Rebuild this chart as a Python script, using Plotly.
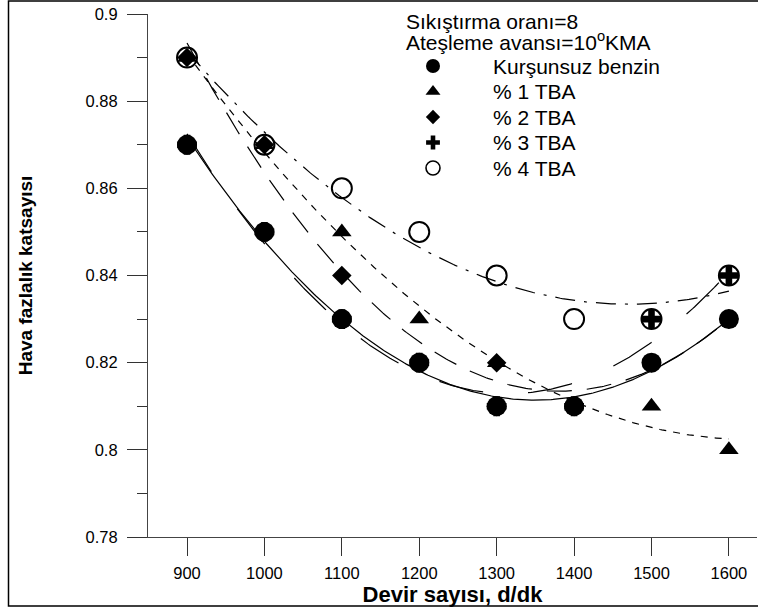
import numpy as np
import plotly.graph_objects as go

# Engine speed (d/dk) and air excess coefficient for each fuel blend
rpm = [900, 1000, 1100, 1200, 1300, 1400, 1500, 1600]
kursunsuz = [0.87, 0.85, 0.83, 0.82, 0.81, 0.81, 0.82, 0.83]
tba_1 = [0.89, 0.87, 0.85, 0.83, 0.82, 0.81, 0.81, 0.80]
tba_2 = [0.89, 0.87, 0.84, 0.82, 0.82, 0.81, 0.82, 0.83]
tba_3 = [0.87, 0.85, 0.83, 0.82, 0.81, 0.81, 0.83, 0.84]
tba_4 = [0.89, 0.87, 0.86, 0.85, 0.84, 0.83, 0.83, 0.84]

# first point index used by each second-order regression
fit_start = [0, 0, 0, 0, 1]

series_names = ["Kurşunsuz benzin", "% 1 TBA", "% 2 TBA", "% 3 TBA", "% 4 TBA"]
x_ticks = [900, 1000, 1100, 1200, 1300, 1400, 1500, 1600]
y_ticks = [0.78, 0.80, 0.82, 0.84, 0.86, 0.88, 0.90]
y_tick_text = ["0.78", "0.8", "0.82", "0.84", "0.86", "0.88", "0.9"]

FONT = "Liberation Sans, Arial, sans-serif"

# plot-area geometry in pixels (used for placing the legend block)
W, H = 758, 610
L, R, T, B = 148, 1, 14, 73
PW, PH = W - L - R, H - T - B


def px_x(px):
    return (px - L) / PW


def px_y(py):
    return (H - B - py) / PH


styles = [
    dict(symbol="circle", size=20, line=dict(width=0), dash="solid"),
    dict(symbol="triangle-up", size=17, line=dict(width=0), dash="7px,7px"),
    dict(symbol="diamond", size=15, line=dict(width=0), dash="25px,15px"),
    dict(symbol="cross", size=16.5, line=dict(width=0), dash="45px,45px"),
    dict(symbol="circle-open", size=20, line=dict(width=2, color="black"), dash="20px,9px,3px,9px"),
]
data = [kursunsuz, tba_1, tba_2, tba_3, tba_4]

fig = go.Figure()

# second-order regression curves
xs = np.linspace(rpm[0], rpm[-1], 300)
for vals, st, nm, k in zip(data, styles, series_names, fit_start):
    coef = np.polyfit(rpm[k:], vals[k:], 2)
    fig.add_trace(go.Scatter(
        x=xs, y=np.polyval(coef, xs), mode="lines", name=nm, showlegend=False,
        line=dict(color="black", width=1.2, dash=st["dash"]), hoverinfo="skip"))

# measured points
for vals, st, nm in zip(data, styles, series_names):
    fig.add_trace(go.Scatter(
        x=rpm, y=vals, mode="markers", name=nm, showlegend=False,
        marker=dict(symbol=st["symbol"], size=st["size"], color="black", line=st["line"])))

# legend block: symbols on an overlay axis spanning the plot area
leg_x = 433
leg_y = [66, 91.5, 117, 142.5, 168]
leg_sizes = [14, 13, 11, 11.5, 14]
for st, yy, sz in zip(styles, leg_y, leg_sizes):
    fig.add_trace(go.Scatter(
        x=[px_x(leg_x)], y=[px_y(yy)], mode="markers", xaxis="x2", yaxis="y2",
        showlegend=False, hoverinfo="skip",
        marker=dict(symbol=st["symbol"], size=sz, color="black",
                    line=dict(width=1.6 if st["symbol"] == "circle-open" else 0, color="black"))))

annotations = [
    dict(text="Sıkıştırma oranı=8", x=px_x(404), y=px_y(22)),
    dict(text="Ateşleme avansı=10<sup>o</sup>KMA", x=px_x(404), y=px_y(41)),
]
for nm, yy in zip(series_names, leg_y):
    annotations.append(dict(text=nm, x=px_x(491), y=px_y(yy)))
for a in annotations:
    a.update(xref="paper", yref="paper", xanchor="left", yanchor="middle", showarrow=False,
             font=dict(family=FONT, size=21, color="black"))

# outer frame of the figure (open on the right, where the page is cut)
shapes = [dict(type="rect", xref="paper", yref="paper",
               x0=px_x(8.5), x1=px_x(775), y0=px_y(606), y1=px_y(1),
               line=dict(color="black", width=1.5))]

fig.update_layout(
    width=W, height=H,
    margin=dict(l=L, r=R, t=T, b=B),
    paper_bgcolor="white", plot_bgcolor="white",
    font=dict(family=FONT, color="black"),
    showlegend=False,
    annotations=annotations,
    shapes=shapes,
    xaxis=dict(
        range=[849.6, 1636.3], tickvals=x_ticks, ticks="outside", ticklen=18, tickwidth=1,
        tickcolor="#333", showline=True, linecolor="#444", linewidth=1.2, showgrid=False,
        zeroline=False, tickfont=dict(family=FONT, size=16.5, color="black"),
        ticklabelstandoff=3,
        title=dict(text="<b>Devir sayısı, d/dk</b>", font=dict(family=FONT, size=22, color="black"),
                   standoff=0),
    ),
    yaxis=dict(
        range=[0.78, 0.9], tickvals=y_ticks, ticktext=y_tick_text, ticks="outside", ticklen=20,
        tickwidth=1, tickcolor="#333", showline=True, linecolor="#444", linewidth=1.2,
        showgrid=False, zeroline=False, tickfont=dict(family=FONT, size=16.5, color="black"),
        ticklabelstandoff=6,
        minor=dict(dtick=0.01, ticks="outside", ticklen=10, tickcolor="#333", showgrid=False),
        title=dict(text="<b>Hava fazlalık katsayısı</b>", font=dict(family=FONT, size=19, color="black"),
                   standoff=47),
    ),
    xaxis2=dict(overlaying="x", range=[0, 1], visible=False, fixedrange=True),
    yaxis2=dict(overlaying="y", range=[0, 1], visible=False, fixedrange=True),
)

fig.write_html("out.html")
